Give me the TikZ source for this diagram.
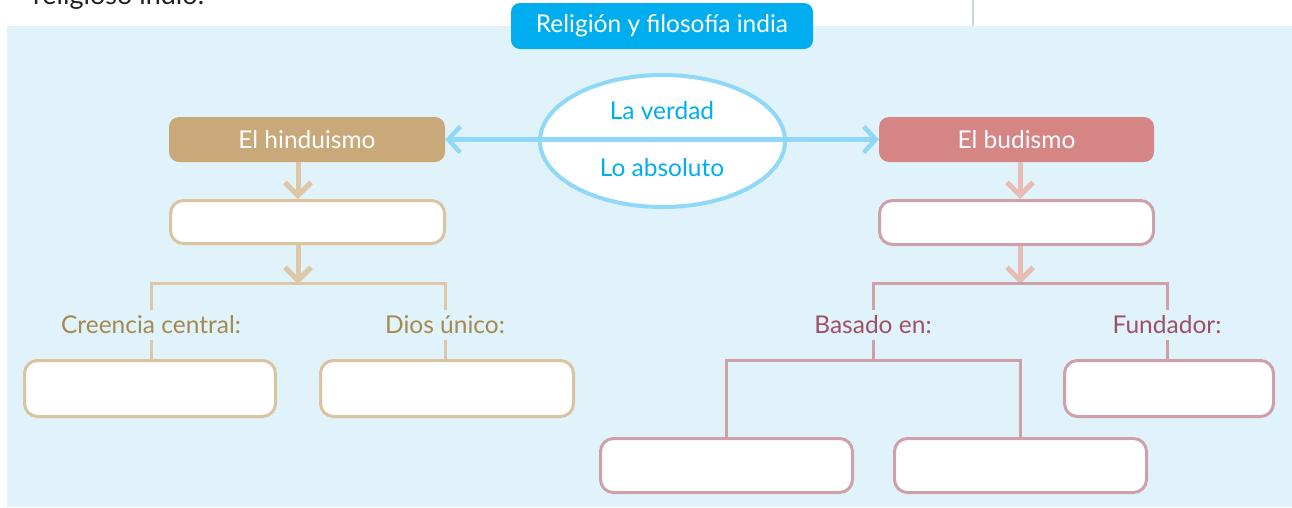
\documentclass[tikz,border=0pt]{standalone}
\usepackage{fontspec}
\setmainfont{Lato}
\usetikzlibrary{arrows.meta,shapes.geometric}
\definecolor{bgblue}{HTML}{E0F3FB}
\definecolor{titlecyan}{HTML}{00AEEF}
\definecolor{ellcyan}{HTML}{8FD8F7}
\definecolor{tanfill}{HTML}{C9A97A}
\definecolor{tanline}{HTML}{DEC6A6}
\definecolor{tanborder}{HTML}{DCC3A0}
\definecolor{tantext}{HTML}{A5894F}
\definecolor{pinkfill}{HTML}{D68585}
\definecolor{pinkarrow}{HTML}{E8BCB4}
\definecolor{pinkborder}{HTML}{CFA0A8}
\definecolor{pinktext}{HTML}{A04F66}
\definecolor{topgray}{HTML}{CCD6DD}
\definecolor{bodytext}{HTML}{231F20}
\tikzset{
  txt/.style={font=\fontsize{24.5}{28}\selectfont},
  headbox/.style={txt, rectangle, rounded corners=10pt, text=white, minimum width=276pt, minimum height=45pt, inner sep=0pt},
  blankbox/.style={rectangle, rounded corners=13pt, fill=white, line width=3pt, inner sep=0pt},
  tanblank/.style={blankbox, draw=tanborder},
  pinkblank/.style={blankbox, draw=pinkborder},
  lab/.style={txt, fill=bgblue, inner xsep=2pt, inner ysep=6.5pt, text height=17.5pt, text depth=0pt},
  downarrow/.style={line width=5pt, -{Straight Barb[length=13pt,width=26pt]}},
  treeline/.style={line width=3pt},
}
\begin{document}
\begin{tikzpicture}[x=1pt,y=-1pt]
\useasboundingbox (0,0) rectangle (1292,507);
% top partial text and rule
\node[txt, text=bodytext, anchor=base west, inner sep=0pt, font=\fontsize{27}{31}\selectfont] (toptext) at (33,4) {religioso indio.};
\draw[topgray, line width=2pt] (973,0) coordinate (ruletop) -- (973,26) coordinate (rulebot);
% background
\fill[bgblue] (7,26) rectangle (1292,507);
% title
\node[txt, rectangle, rounded corners=9pt, fill=titlecyan, text=white, minimum width=302pt, minimum height=46pt, inner sep=0pt] (title) at (662,26) {Religión y filosofía india};
% head boxes
\node[headbox, fill=tanfill] (hindu) at (307,139.5) {El hinduismo};
\node[headbox, fill=pinkfill, minimum width=275pt] (budismo) at (1016.5,139.5) {El budismo};
% ellipse
\node[ellipse, draw=ellcyan, fill=white, line width=4pt, minimum width=245pt, minimum height=132pt, inner sep=0pt] (ell) at (662.5,141) {};
\draw[ellcyan, line width=4.5pt, {Straight Barb[length=12pt,width=26pt]}-{Straight Barb[length=12pt,width=26pt]}] (hindu.east) -- (budismo.west);
\node[txt, text=titlecyan] (verdad) at (662,111) {La verdad};
\node[txt, text=titlecyan] (absoluto) at (662,168) {Lo absoluto};
% second level boxes
\node[tanblank, minimum width=274pt, minimum height=43pt] (h1) at (307.5,222) {};
\node[pinkblank, minimum width=274pt, minimum height=44pt] (b1) at (1016.5,222.5) {};
% third level boxes
\node[tanblank, minimum width=251pt, minimum height=56pt] (l1) at (150,388.5) {};
\node[tanblank, minimum width=253pt, minimum height=56pt] (l2) at (447,388.5) {};
\node[pinkblank, minimum width=209pt, minimum height=56pt] (r2) at (1169,388.5) {};
\node[pinkblank, minimum width=252pt, minimum height=54pt] (r3) at (726.5,465.5) {};
\node[pinkblank, minimum width=252pt, minimum height=54pt] (r4) at (1020.5,465.5) {};
% split coordinates
\coordinate (hsplit) at (298,283);
\coordinate (bsplit) at (1020,283);
\coordinate (bjoin) at (873,360);
% label positions
\coordinate (labcc) at (151,325);
\coordinate (labdu) at (445,325);
\coordinate (labba) at (873,325);
\coordinate (labfu) at (1167,325);
% arrows
\draw[downarrow, tanline] (hindu.south -| hsplit) -- (h1.north -| hsplit);
\draw[downarrow, tanline] (h1.south -| hsplit) -- ([yshift=-1pt]hsplit);
\draw[downarrow, pinkarrow] (budismo.south -| bsplit) -- (b1.north -| bsplit);
\draw[downarrow, pinkarrow] (b1.south -| bsplit) -- ([yshift=-1pt]bsplit);
% tree lines
\draw[treeline, tanline] (l1.north -| labcc) -- (labcc |- hsplit) -- (labdu |- hsplit) -- (l2.north -| labdu);
\draw[treeline, pinkborder] (r2.north -| labfu) -- (labfu |- bsplit) -- (labba |- bsplit) -- (bjoin);
\draw[treeline, pinkborder] (r3.north) -- (r3.north |- bjoin) -- (r4.north |- bjoin) -- (r4.north);
% labels
\node[lab, text=tantext] (cc) at (labcc) {Creencia central:};
\node[lab, text=tantext] (du) at (labdu) {Dios único:};
\node[lab, text=pinktext] (ba) at (labba) {Basado en:};
\node[lab, text=pinktext] (fu) at (labfu) {Fundador:};
\end{tikzpicture}
\end{document}
